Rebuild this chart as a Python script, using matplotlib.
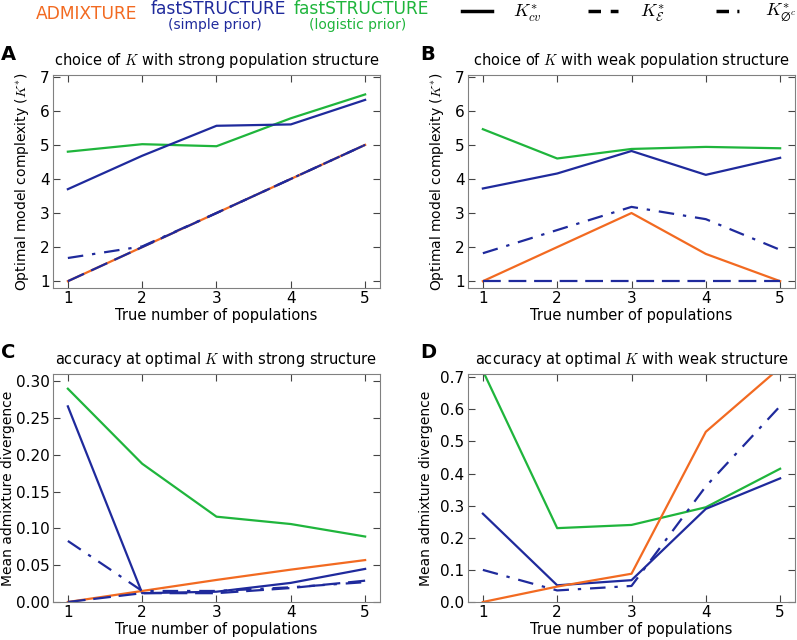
import matplotlib
matplotlib.use("Agg")
import matplotlib.pyplot as plt
from matplotlib.lines import Line2D

ORANGE = '#f26a21'
BLUE = '#1f2a9c'
GREEN = '#1fb53c'

x = [1, 2, 3, 4, 5]

# A: choice of K, strong structure
a_adm = [1, 2, 3, 4, 5]
a_simple_cv = [3.7, 4.68, 5.56, 5.6, 6.32]
a_simple_e = [1, 2, 3, 4, 5]
a_simple_dc = [1.68, 2.02, 3, 4, 5]
a_logit_cv = [4.8, 5.02, 4.96, 5.78, 6.48]

# B: choice of K, weak structure
b_adm = [1, 2, 3, 1.8, 1]
b_simple_cv = [3.72, 4.16, 4.82, 4.12, 4.62]
b_simple_e = [1, 1, 1, 1, 1]
b_simple_dc = [1.82, 2.5, 3.18, 2.82, 1.92]
b_logit_cv = [5.46, 4.6, 4.88, 4.94, 4.9]

# C: accuracy, strong structure
c_adm = [0.0, 0.015, 0.030, 0.044, 0.057]
c_simple_cv = [0.266, 0.012, 0.014, 0.026, 0.045]
c_simple_e = [0.0, 0.012, 0.012, 0.019, 0.029]
c_simple_dc = [0.083, 0.015, 0.015, 0.020, 0.027]
c_logit_cv = [0.290, 0.188, 0.116, 0.106, 0.089]

# D: accuracy, weak structure
d_adm = [0.0, 0.048, 0.088, 0.53, 0.73]
d_simple_cv = [0.275, 0.052, 0.068, 0.29, 0.385]
d_simple_dc = [0.10, 0.036, 0.05, 0.36, 0.61]
d_logit_cv = [0.72, 0.23, 0.24, 0.295, 0.415]

plt.rcParams.update({'font.size': 10, 'mathtext.fontset': 'cm'})
fig = plt.figure(figsize=(7.97, 6.4), dpi=100)
W, H = 797, 640

def make_ax(l, r, t, b):
    return fig.add_axes([l / W, 1 - b / H, (r - l) / W, (b - t) / H])

def style(ax):
    for s in ax.spines.values():
        s.set_color('#808080')
    ax.tick_params(direction='in', top=True, right=True, color='#444444',
                   length=5, labelsize=11, pad=2.5)
    ax.set_xlim(0.8, 5.2)
    ax.set_xticks(x)
    ax.set_xlabel('True number of populations', fontsize=10.5, labelpad=1)

def draw(ax, adm, scv, se, sdc, lcv):
    ax.plot(x, lcv, color=GREEN, lw=1.6)
    ax.plot(x, scv, color=BLUE, lw=1.6)
    ax.plot(x, adm, color=ORANGE, lw=1.6)
    if se is not None:
        ax.plot(x, se, color=BLUE, lw=1.6, dashes=(8, 3.5))
    ax.plot(x, sdc, color=BLUE, lw=1.6, dashes=(7, 4, 1.5, 4))

axA = make_ax(53, 380, 75, 288)
axB = make_ax(468, 795, 75, 288)
axC = make_ax(53, 380, 374, 602)
axD = make_ax(468, 795, 374, 602)

draw(axA, a_adm, a_simple_cv, a_simple_e, a_simple_dc, a_logit_cv)
draw(axB, b_adm, b_simple_cv, b_simple_e, b_simple_dc, b_logit_cv)
draw(axC, c_adm, c_simple_cv, c_simple_e, c_simple_dc, c_logit_cv)
draw(axD, d_adm, d_simple_cv, None, d_simple_dc, d_logit_cv)

for ax in (axA, axB):
    style(ax)
    ax.set_ylim(0.8, 7.05)
    ax.set_yticks([1, 2, 3, 4, 5, 6, 7])
    ax.set_ylabel(r'Optimal model complexity ($K^{*}$)', fontsize=10)
for ax in (axC, axD):
    style(ax)
    ax.set_ylabel('Mean admixture divergence', fontsize=10)
axC.set_ylim(0, 0.31)
axC.set_yticks([0, 0.05, 0.10, 0.15, 0.20, 0.25, 0.30])
axC.set_yticklabels(['0.00', '0.05', '0.10', '0.15', '0.20', '0.25', '0.30'])
axD.set_ylim(0, 0.71)
axD.set_yticks([0, 0.1, 0.2, 0.3, 0.4, 0.5, 0.6, 0.7])

axA.yaxis.set_label_coords(-0.068, 0.5)
axB.yaxis.set_label_coords(-0.068, 0.5)
axC.yaxis.set_label_coords(-0.116, 0.5)
axD.yaxis.set_label_coords(-0.107, 0.5)

axA.set_title(r'choice of $K$ with strong population structure', fontsize=10.5, pad=7)
axB.set_title(r'choice of $K$ with weak population structure', fontsize=10.5, pad=7)
axC.set_title(r'accuracy at optimal $K$ with strong structure', fontsize=10.5, pad=7)
axD.set_title(r'accuracy at optimal $K$ with weak structure', fontsize=10.5, pad=7)

for lbl, px, py in [('A', 8, 54), ('B', 428, 54), ('C', 8, 353), ('D', 428, 353)]:
    fig.text(px / W, 1 - py / H, lbl, fontsize=14, fontweight='bold',
             ha='center', va='center')

# header legend
fig.text(87 / W, 1 - 14 / H, 'ADMIXTURE', color=ORANGE, fontsize=12.3, ha='center', va='center')
fig.text(218 / W, 1 - 9 / H, 'fastSTRUCTURE', color=BLUE, fontsize=12.3, ha='center', va='center')
fig.text(215 / W, 1 - 25 / H, '(simple prior)', color=BLUE, fontsize=10, ha='center', va='center')
fig.text(361 / W, 1 - 9 / H, 'fastSTRUCTURE', color=GREEN, fontsize=12.3, ha='center', va='center')
fig.text(358 / W, 1 - 25 / H, '(logistic prior)', color=GREEN, fontsize=10, ha='center', va='center')

leg_items = [(None, r'$K^{*}_{cv}$', 462, 513),
             ((3.6, 2.8), r'$K^{*}_{\mathcal{E}}$', 588, 640),
             ((3.6, 2.4, 0.6, 2.4), r'$K^{*}_{\varnothing^{c}}$', 716, 765)]
for dsh, lab, x0, xt in leg_items:
    ln = Line2D([x0 / W, (x0 + 30) / W], [1 - 11 / H, 1 - 11 / H], color='black',
                lw=2.5, transform=fig.transFigure)
    if dsh is not None:
        ln.set_dashes(dsh)
    fig.add_artist(ln)
    fig.text(xt / W, 1 - 13 / H, lab, fontsize=13, va='center')

fig.savefig('out.png', dpi=100)
